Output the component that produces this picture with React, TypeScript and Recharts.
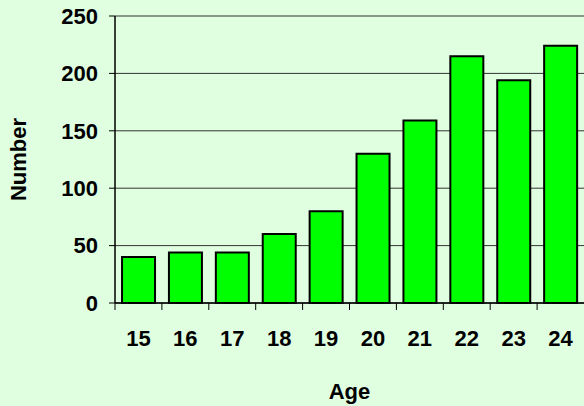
import { BarChart, Bar, XAxis, YAxis, CartesianGrid } from 'recharts'

const ages = ['15', '16', '17', '18', '19', '20', '21', '22', '23', '24']
const counts = [40, 44, 44, 60, 80, 130, 159, 215, 194, 224]
const yTicks = [0, 50, 100, 150, 200, 250]

const data = ages.map((age, i) => ({ age, count: counts[i] }))

const FONT = '"Liberation Sans", Arial, sans-serif'
const FS = 22
const PLOT_W = 469
const BAND = PLOT_W / ages.length

function AgeTick(props: any) {
  const { x, y, payload } = props
  return (
    <g>
      <line x1={x - BAND / 2} y1={y - 8} x2={x - BAND / 2} y2={y - 1} stroke="#000" strokeWidth={1} />
      <text x={x} y={y + 27} textAnchor="middle" dominantBaseline="central" fontFamily={FONT} fontWeight="bold" fontSize={FS} fill="#000">
        {payload.value}
      </text>
    </g>
  )
}

function AgeLabel(props: any) {
  const { viewBox } = props
  return (
    <text x={viewBox.x + viewBox.width / 2} y={391} textAnchor="middle" dominantBaseline="central" fontFamily={FONT} fontWeight="bold" fontSize={FS} fill="#000">
      Age
    </text>
  )
}

function NumberLabel(props: any) {
  const { viewBox } = props
  const cy = viewBox.y + viewBox.height / 2
  return (
    <text x={18} y={cy} transform={`rotate(-90 18 ${cy})`} textAnchor="middle" dominantBaseline="central" fontFamily={FONT} fontWeight="bold" fontSize={FS} fill="#000">
      Number
    </text>
  )
}

export default function App() {
  return (
    <div style={{ position: 'absolute', left: 0, top: 0, width: 584, height: 406, background: '#e0ffe0' }}>
      <BarChart
        width={584}
        height={406}
        data={data}
        margin={{ top: 16, right: 0, left: 0, bottom: 0 }}
        barCategoryGap="15%"
      >
        <CartesianGrid vertical={false} stroke="#333" strokeWidth={1} />
        <XAxis
          dataKey="age"
          height={103}
          axisLine={{ stroke: '#000', strokeWidth: 1.5 }}
          tickLine={false}
          tick={<AgeTick />}
          interval={0}
          label={<AgeLabel />}
        />
        <YAxis
          width={115}
          domain={[0, 250]}
          ticks={yTicks}
          interval={0}
          axisLine={{ stroke: '#000', strokeWidth: 1.5 }}
          tickLine={{ stroke: '#000' }}
          tickSize={6}
          tickMargin={11}
          tick={{ fill: '#000', fontFamily: FONT, fontWeight: 'bold', fontSize: FS }}
          label={<NumberLabel />}
        />
        <Bar dataKey="count" fill="#00ff00" stroke="#000" strokeWidth={2} isAnimationActive={false} />
      </BarChart>
    </div>
  )
}
